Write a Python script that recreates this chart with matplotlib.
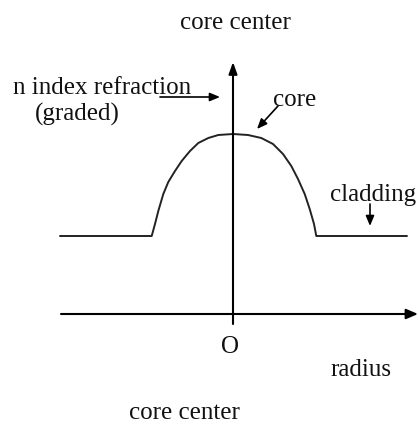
import numpy as np
import matplotlib
matplotlib.use("Agg")
import matplotlib.pyplot as plt

plt.rcParams['font.family'] = ['Liberation Serif', 'DejaVu Serif']

# graded index profile, radius measured from the core center
radius = np.array([-173, -81.3, -78, -74.7, -69.7, -64.7, -58, -51.3, -43,
                   -34.7, -24.7, -14.7, 0, 15, 28.3, 40, 50, 58.3, 65,
                   71.7, 76.7, 81, 83.3, 174])
index_n = np.array([78, 78, 90, 103, 120, 132, 143, 153, 163,
                    171, 176, 179, 180, 179, 176, 170, 160, 148, 135,
                    120, 105, 90, 78, 78])

# axis extents
r_axis = [-172, 185]
n_axis = [-10, 252]

# label text and where it sits
labels = ["core center", "n index refraction", "(graded)", "core",
          "cladding", "O", "radius", "core center"]
label_xy = [(2, 292), (-220, 227), (-156, 201), (62, 215),
            (97, 120), (-3, -32), (128, -55), (-49, -98)]
label_ha = ["center", "left", "center", "center",
            "left", "center", "center", "center"]

# pointer arrows: (start, end)
pointers = [((-73, 217), (-13, 217)),
            ((45, 208), (24, 185)),
            ((137, 110), (137, 88))]

fig = plt.figure(figsize=(4.18, 4.27), dpi=100)
ax = fig.add_axes([0, 0, 1, 1])
ax.set_xlim(-233, 185)
ax.set_ylim(-112, 315)
ax.axis('off')

ax.plot(radius, index_n, color='#222222', lw=1.4,
        solid_joinstyle='round', solid_capstyle='round')

# axes with arrowheads
ax.annotate('', xy=(r_axis[1], 0), xytext=(r_axis[0], 0),
            arrowprops=dict(arrowstyle='-|>,head_length=0.7,head_width=0.3',
                            color='black', lw=1.5, shrinkA=0, shrinkB=0))
ax.annotate('', xy=(0, n_axis[1]), xytext=(0, n_axis[0]),
            arrowprops=dict(arrowstyle='-|>,head_length=0.7,head_width=0.25',
                            color='black', lw=1.5, shrinkA=0, shrinkB=0))

for (x0, y0), (x1, y1) in pointers:
    ax.annotate('', xy=(x1, y1), xytext=(x0, y0),
                arrowprops=dict(arrowstyle='-|>,head_length=0.6,head_width=0.25',
                                color='black', lw=1.2, shrinkA=0, shrinkB=0))

for txt, (x, y), ha in zip(labels, label_xy, label_ha):
    ax.text(x, y, txt, ha=ha, va='center', fontsize=18, color='#111111')

fig.savefig('out.png', dpi=100)
